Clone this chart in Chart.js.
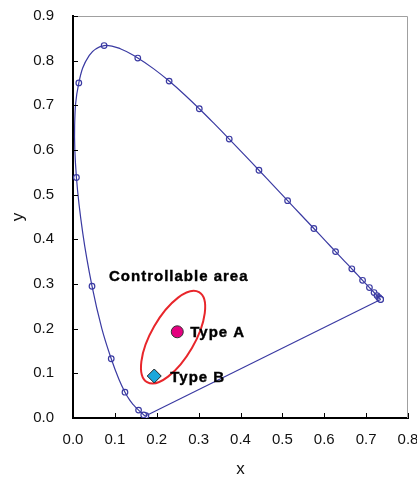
<!DOCTYPE html>
<html>
<head>
<meta charset="utf-8">
<script src="https://cdn.jsdelivr.net/npm/chart.js@4"></script>
<style>
  html, body { margin: 0; padding: 0; background: #fff; }
</style>
</head>
<body>
<canvas id="chart" width="417" height="478"></canvas>
<script>
// CIE 1931 spectral locus, 380-700 nm every 5 nm
const wavelengths = [380,385,390,395,400,405,410,415,420,425,430,435,440,445,450,455,460,465,470,475,480,485,490,495,500,505,510,515,520,525,530,535,540,545,550,555,560,565,570,575,580,585,590,595,600,605,610,615,620,625,630,635,640,645,650,655,660,665,670,675,680,685,690,695,700];
const locusX = [0.1741,0.1740,0.1738,0.1736,0.1733,0.1730,0.1726,0.1721,0.1714,0.1703,0.1689,0.1669,0.1644,0.1611,0.1566,0.1510,0.1440,0.1355,0.1241,0.1096,0.0913,0.0687,0.0454,0.0235,0.0082,0.0039,0.0139,0.0389,0.0743,0.1142,0.1547,0.1929,0.2296,0.2658,0.3016,0.3373,0.3731,0.4087,0.4441,0.4788,0.5125,0.5448,0.5752,0.6029,0.6270,0.6482,0.6658,0.6801,0.6915,0.7006,0.7079,0.7140,0.7190,0.7230,0.7260,0.7283,0.7300,0.7311,0.7320,0.7327,0.7334,0.7340,0.7344,0.7346,0.7347];
const locusY = [0.0050,0.0050,0.0049,0.0049,0.0048,0.0048,0.0048,0.0048,0.0051,0.0058,0.0069,0.0086,0.0109,0.0138,0.0177,0.0227,0.0297,0.0399,0.0578,0.0868,0.1327,0.2007,0.2950,0.4127,0.5384,0.6548,0.7502,0.8120,0.8338,0.8262,0.8059,0.7816,0.7543,0.7243,0.6923,0.6589,0.6245,0.5896,0.5547,0.5202,0.4866,0.4544,0.4242,0.3965,0.3725,0.3514,0.3340,0.3197,0.3083,0.2993,0.2920,0.2859,0.2809,0.2770,0.2740,0.2717,0.2700,0.2689,0.2680,0.2673,0.2666,0.2660,0.2656,0.2654,0.2653];
// wavelengths marked with circles
const markedNm = [380,430,450,470,480,490,500,510,520,530,540,550,560,570,580,590,600,610,620,630,640,650,660,670,680,690,700];
// purple line closes the locus
const purpleEnds = [700, 380];

const typeA = [0.249, 0.193];
const typeB = [0.194, 0.094];
// controllable area ellipse: centre, semi-axes (x units), tilt in degrees
const areaCentre = [0.239, 0.181];
const areaAxes = [0.124, 0.052];
const areaTilt = -60;

const xTicks = [0, 0.1, 0.2, 0.3, 0.4, 0.5, 0.6, 0.7, 0.8];
const yTicks = [0, 0.1, 0.2, 0.3, 0.4, 0.5, 0.6, 0.7, 0.8, 0.9];

const at = nm => wavelengths.indexOf(nm);
const locus = wavelengths.map((_, i) => ({ x: locusX[i], y: locusY[i] }));
const marks = markedNm.map(nm => ({ x: locusX[at(nm)], y: locusY[at(nm)] }));
const purple = purpleEnds.map(nm => ({ x: locusX[at(nm)], y: locusY[at(nm)] }));

const lineColor = "#3a3aa2";
const font = "'Liberation Sans', Arial, sans-serif";

const framePlugin = {
  id: "frame",
  beforeDatasetsDraw(chart) {
    const { ctx, chartArea: a, scales } = chart;
    ctx.save();
    ctx.strokeStyle = "#a0a0a0";
    ctx.lineWidth = 1;
    ctx.beginPath();
    ctx.moveTo(a.left, a.top + 0.5);
    ctx.lineTo(a.right - 0.5, a.top + 0.5);
    ctx.lineTo(a.right - 0.5, a.bottom);
    ctx.stroke();

    // ellipse
    const cx = scales.x.getPixelForValue(areaCentre[0]);
    const cy = scales.y.getPixelForValue(areaCentre[1]);
    const k = scales.x.getPixelForValue(1) - scales.x.getPixelForValue(0);
    ctx.strokeStyle = "#e8262b";
    ctx.lineWidth = 2;
    ctx.beginPath();
    ctx.ellipse(cx, cy, areaAxes[0] * k, areaAxes[1] * k, areaTilt * Math.PI / 180, 0, Math.PI * 2);
    ctx.stroke();
    ctx.restore();
  },
  afterDatasetsDraw(chart) {
    const { ctx, chartArea: a, scales } = chart;
    ctx.save();
    // inward ticks
    ctx.strokeStyle = "#000";
    ctx.lineWidth = 1;
    ctx.beginPath();
    xTicks.forEach(v => {
      const px = Math.round(scales.x.getPixelForValue(v)) + 0.5;
      ctx.moveTo(px, a.bottom);
      ctx.lineTo(px, a.bottom - 5);
    });
    yTicks.forEach(v => {
      const py = Math.round(scales.y.getPixelForValue(v)) + 0.5;
      ctx.moveTo(a.left, py);
      ctx.lineTo(a.left + 5, py);
    });
    ctx.stroke();

    // labels
    ctx.fillStyle = "#000";
    ctx.strokeStyle = "#000";
    ctx.lineWidth = 0.4;
    ctx.font = "bold 15px " + font;
    ctx.textBaseline = "middle";
    if ("letterSpacing" in ctx) ctx.letterSpacing = "1px";
    const label = (t, x, y) => { ctx.fillText(t, x, y); ctx.strokeText(t, x, y); };
    const ax = scales.x.getPixelForValue(typeA[0]);
    const ay = scales.y.getPixelForValue(typeA[1]);
    label("Type A", ax + 13, ay + 1);
    const bx = scales.x.getPixelForValue(typeB[0]);
    const by = scales.y.getPixelForValue(typeB[1]);
    label("Type B", bx + 16, by + 2);
    label("Controllable area", scales.x.getPixelForValue(0.086), scales.y.getPixelForValue(0.316));
    ctx.restore();
  }
};

new Chart(document.getElementById("chart"), {
  type: "scatter",
  data: {
    datasets: [
      { data: locus, showLine: true, borderColor: lineColor, borderWidth: 1.2, pointRadius: 0, tension: 0.4, fill: false },
      { data: purple, showLine: true, borderColor: lineColor, borderWidth: 1.2, pointRadius: 0, tension: 0 },
      { data: marks, pointRadius: 2.8, pointBackgroundColor: "#fff", pointBorderColor: lineColor, pointBorderWidth: 1.2 },
      { data: [{ x: typeA[0], y: typeA[1] }], pointStyle: "circle", pointRadius: 6, pointBackgroundColor: "#e4007f", pointBorderColor: "#333", pointBorderWidth: 1 },
      { data: [{ x: typeB[0], y: typeB[1] }], pointStyle: "rectRot", pointRadius: 7, pointBackgroundColor: "#1aa7dc", pointBorderColor: "#222", pointBorderWidth: 1 }
    ]
  },
  options: {
    responsive: false,
    animation: false,
    events: [],
    layout: { padding: { left: 0, right: 9, top: 16, bottom: 0 } },
    plugins: { legend: { display: false }, tooltip: { enabled: false } },
    scales: {
      x: {
        type: "linear", min: 0, max: 0.8,
        afterBuildTicks: s => { s.ticks = xTicks.map(v => ({ value: v })); },
        afterFit: s => { s.height = 60; s.paddingLeft = 0; s.paddingRight = 0; },
        grid: { display: false, drawTicks: false },
        border: { display: true, color: "#000", width: 2 },
        ticks: { padding: 13, color: "#111", font: { family: font, size: 15 }, callback: v => v.toFixed(1) },
        title: { display: true, text: "x", color: "#111", font: { family: font, size: 17, lineHeight: 1 }, padding: { top: 0, bottom: 0 } }
      },
      y: {
        type: "linear", min: 0, max: 0.9,
        afterBuildTicks: s => { s.ticks = yTicks.map(v => ({ value: v })); },
        afterFit: s => { s.width = 73; s.paddingTop = 0; s.paddingBottom = 0; },
        grid: { display: false, drawTicks: false },
        border: { display: true, color: "#000", width: 2 },
        ticks: { padding: 19, color: "#111", font: { family: font, size: 15 }, callback: v => v.toFixed(1) },
        title: { display: true, text: "y", color: "#111", font: { family: font, size: 17, lineHeight: 1 }, padding: { top: 10, bottom: 0 } }
      }
    }
  },
  plugins: [framePlugin]
});
</script>
</body>
</html>
